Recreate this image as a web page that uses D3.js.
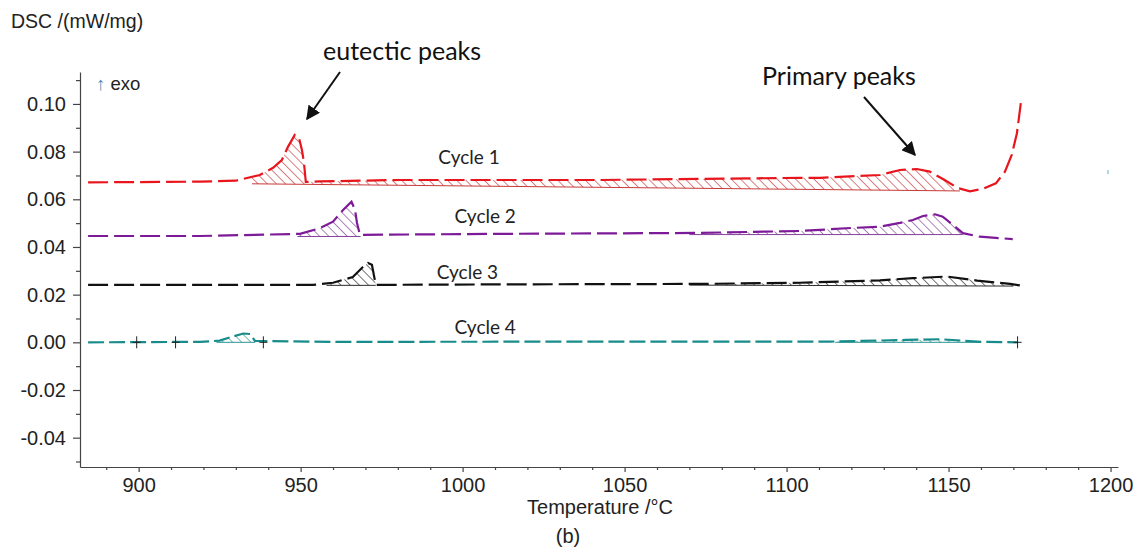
<!DOCTYPE html>
<html>
<head>
<meta charset="utf-8">
<script src="https://cdn.jsdelivr.net/npm/d3@7"></script>
<style>
  html, body { margin: 0; padding: 0; background: #fff; }
  svg { display: block; }
</style>
</head>
<body>
<svg id="chart" width="1137" height="550"></svg>
<script>
// ---------------- data ----------------
const xTicks = [900, 950, 1000, 1050, 1100, 1150, 1200];
const xMinorTicks = [890, 910, 920, 930, 940, 960, 970, 980, 990, 1010, 1020, 1030, 1040, 1060, 1070, 1080, 1090, 1110, 1120, 1130, 1140, 1160, 1170, 1180, 1190];
const yTicks = [-0.04, -0.02, 0.00, 0.02, 0.04, 0.06, 0.08, 0.10];
const yMinorTicks = [-0.05, -0.03, -0.01, 0.01, 0.03, 0.05, 0.07, 0.09, 0.11];

const cycleNames = ["Cycle 1", "Cycle 2", "Cycle 3", "Cycle 4"];

// Cycle 1 (red)
const c1T = [884.4, 918.9, 930.0, 937.4, 941.5, 944.2, 946.1, 948.2, 949.5, 950.4, 951.0, 951.6, 956.0, 980.6, 1042.4, 1104.0, 1110.3, 1122.6, 1128.8, 1135.0, 1140.2, 1144.2, 1148.8, 1152.9, 1156.6, 1160.6, 1164.6, 1167.4, 1169.5, 1171.1, 1172.3];
const c1V = [0.0671, 0.0674, 0.0678, 0.0702, 0.0732, 0.0765, 0.0820, 0.0870, 0.0858, 0.0807, 0.0757, 0.0673, 0.0675, 0.0681, 0.0681, 0.0690, 0.0690, 0.0698, 0.0702, 0.0723, 0.0727, 0.0716, 0.0681, 0.0647, 0.0633, 0.0644, 0.0667, 0.0716, 0.0786, 0.0877, 0.1003];
// Cycle 2 (purple)
const c2T = [884.4, 918.9, 949.8, 956.0, 960.0, 963.1, 965.7, 966.8, 967.4, 968.3, 1011.5, 1073.3, 1104.1, 1120.5, 1128.8, 1135.0, 1139.0, 1142.1, 1145.8, 1148.2, 1151.3, 1154.4, 1159.7, 1169.8];
const c2V = [0.0446, 0.0446, 0.0455, 0.0479, 0.0506, 0.0555, 0.0590, 0.0555, 0.0501, 0.0451, 0.0455, 0.0459, 0.0467, 0.0480, 0.0485, 0.0501, 0.0513, 0.0530, 0.0537, 0.0527, 0.0493, 0.0458, 0.0443, 0.0433];
// Cycle 3 (black)
const c3T = [884.4, 949.8, 953.8, 960.0, 966.1, 968.9, 970.8, 972.0, 972.6, 973.2, 1011.5, 1073.3, 1104.0, 1128.8, 1139.0, 1149.5, 1158.8, 1169.0, 1172.0];
const c3V = [0.0241, 0.0241, 0.0241, 0.0250, 0.0274, 0.0312, 0.0333, 0.0325, 0.0283, 0.0241, 0.0243, 0.0245, 0.0250, 0.0260, 0.0269, 0.0276, 0.0259, 0.0245, 0.0239];
// Cycle 4 (teal)
const c4T = [884.4, 918.9, 925.0, 928.8, 932.3, 934.4, 935.9, 960.0, 1050.0, 1113.3, 1137.0, 1147.4, 1160.0, 1171.3];
const c4V = [0.0000, 0.0002, 0.0007, 0.0023, 0.0037, 0.0035, 0.0006, 0.0002, 0.0003, 0.0003, 0.0010, 0.0013, 0.0002, 0.0000];

// hatched peak areas: cycle index, T start, T end, baseline value at start, baseline value at end
const hatchCycle = [0, 1, 1, 2, 2, 3, 3];
const hatchT0 = [935.0, 949.0, 1070.0, 958.0, 1070.0, 924.0, 1115.0];
const hatchT1 = [1153.5, 968.5, 1154.4, 973.2, 1170.0, 936.0, 1160.0];
const hatchB0 = [0.0665, 0.0444, 0.0452, 0.0239, 0.0240, 0.0000, 0.0000];
const hatchB1 = [0.0635, 0.0444, 0.0452, 0.0239, 0.0236, 0.0000, 0.0000];

// integration markers on cycle 4
const crossT = [899.4, 911.4, 938.5, 1171.3];
const crossV = [0, 0, 0, 0];
// stray teal mark
const strayT = [1199.2];
const strayV = [0.0714];

// cycle label anchor positions (data units)
const labelT = [992.5, 997.5, 992.0, 997.5];
const labelV = [0.0748, 0.0501, 0.0266, 0.0035];

// ---------------- drawing ----------------
const colors = ["#e8161c", "#7d1a98", "#111111", "#178c8a"];
const hatchColors = ["#c83a3a", "#84419a", "#2a2a2a", "#2f9593"];

const svg = d3.select("#chart");
svg.append("rect").attr("width", 1137).attr("height", 550).attr("fill", "#fff");

const x = d3.scaleLinear().domain([881.9, 1202.3]).range([80, 1118]);
const y = d3.scaleLinear().domain([-0.0523, 0.1134]).range([467, 72]);

const defs = svg.append("defs");
hatchColors.forEach((c, i) => {
  const p = defs.append("pattern")
    .attr("id", "hatch" + i)
    .attr("patternUnits", "userSpaceOnUse")
    .attr("width", 6.5).attr("height", 6.5)
    .attr("patternTransform", "rotate(-45)");
  p.append("line").attr("x1", 0).attr("y1", 0).attr("x2", 0).attr("y2", 6.5)
    .attr("stroke", c).attr("stroke-width", 1.3);
});

const series = [[c1T, c1V], [c2T, c2V], [c3T, c3V], [c4T, c4V]];

function interp(T, V, t) {
  for (let i = 0; i < T.length - 1; i++) {
    if (t >= T[i] && t <= T[i + 1]) {
      const f = (t - T[i]) / (T[i + 1] - T[i]);
      return V[i] + f * (V[i + 1] - V[i]);
    }
  }
  return t < T[0] ? V[0] : V[V.length - 1];
}

// hatched areas
hatchCycle.forEach((ci, k) => {
  const [T, V] = series[ci];
  const t0 = hatchT0[k], t1 = hatchT1[k];
  const pts = [[t0, interp(T, V, t0)]];
  T.forEach((t, i) => { if (t > t0 && t < t1) pts.push([t, V[i]]); });
  pts.push([t1, interp(T, V, t1)]);
  const base = t => hatchB0[k] + (t - t0) / (t1 - t0) * (hatchB1[k] - hatchB0[k]);
  const area = d3.area()
    .x(d => x(d[0]))
    .y0(d => y(base(d[0])))
    .y1(d => y(Math.max(d[1], base(d[0]))));
  svg.append("path").attr("d", area(pts))
    .attr("fill", "url(#hatch" + ci + ")").attr("stroke", "none");
  svg.append("line")
    .attr("x1", x(t0)).attr("y1", y(hatchB0[k]))
    .attr("x2", x(t1)).attr("y2", y(hatchB1[k]))
    .attr("stroke", hatchColors[ci]).attr("stroke-width", 1);
});

// curves
const line = d3.line().x(d => x(d[0])).y(d => y(d[1]));
series.forEach(([T, V], i) => {
  const pts = T.map((t, j) => [t, V[j]]);
  svg.append("path").attr("d", line(pts))
    .attr("fill", "none")
    .attr("stroke", colors[i])
    .attr("stroke-width", 2.2)
    .attr("stroke-dasharray", i === 3 ? "16,5" : "20,6");
});

// crosses
crossT.forEach((t, i) => {
  const cx = x(t), cy = y(crossV[i]);
  svg.append("path")
    .attr("d", `M${cx - 4},${cy}H${cx + 4}M${cx},${cy - 6}V${cy + 6}`)
    .attr("stroke", "#222").attr("stroke-width", 1).attr("fill", "none");
});
strayT.forEach((t, i) => {
  svg.append("line").attr("x1", x(t)).attr("x2", x(t))
    .attr("y1", y(strayV[i]) - 2).attr("y2", y(strayV[i]) + 2)
    .attr("stroke", "#5fb3c9").attr("stroke-width", 1);
});

// axes
const axisColor = "#444";
const fontAx = "'Liberation Sans', Arial, sans-serif";

const gx = svg.append("g").attr("transform", "translate(0,467)");
gx.call(d3.axisBottom(x).tickValues(xTicks).tickSize(5).tickSizeOuter(0).tickPadding(6).tickFormat(d => String(d)));
const gxm = svg.append("g").attr("transform", "translate(0,467)");
gxm.call(d3.axisBottom(x).tickValues(xMinorTicks).tickSize(3).tickSizeOuter(0).tickFormat(""));
gxm.select(".domain").remove();

const gy = svg.append("g").attr("transform", "translate(80,0)");
gy.call(d3.axisLeft(y).tickValues(yTicks).tickSize(7).tickSizeOuter(0).tickPadding(7).tickFormat(d => d.toFixed(2)));
const gym = svg.append("g").attr("transform", "translate(80,0)");
gym.call(d3.axisLeft(y).tickValues(yMinorTicks).tickSize(4).tickSizeOuter(0).tickFormat(""));
gym.select(".domain").remove();

[gx, gxm, gy, gym].forEach(g => {
  g.selectAll("path,line").attr("stroke", axisColor).attr("stroke-width", 1.2);
  g.selectAll("text").attr("fill", "#222").style("font-family", fontAx).style("font-size", "20px");
});

// axis titles
svg.append("text").attr("x", 11).attr("y", 28)
  .style("font-family", fontAx).style("font-size", "19.5px").attr("fill", "#222")
  .text("DSC /(mW/mg)");
const exo = svg.append("text").attr("x", 96).attr("y", 90)
  .style("font-family", fontAx).style("font-size", "18.5px").attr("fill", "#222");
exo.append("tspan").attr("fill", "#3f8fb5").text("↑");
exo.append("tspan").text(" exo");

svg.append("text").attr("x", 600).attr("y", 514).attr("text-anchor", "middle")
  .style("font-family", "'Liberation Sans Narrow', 'Liberation Sans', Arial, sans-serif")
  .style("font-size", "20px").attr("fill", "#222")
  .text("Temperature /°C");
svg.append("text").attr("x", 568).attr("y", 543).attr("text-anchor", "middle")
  .style("font-family", fontAx).style("font-size", "20px").attr("fill", "#222")
  .text("(b)");

// cycle labels
const fontCal = "Lato, 'Open Sans', sans-serif";
cycleNames.forEach((n, i) => {
  svg.append("text").attr("x", x(labelT[i])).attr("y", y(labelV[i]))
    .style("font-family", fontCal).style("font-size", "19px").attr("fill", "#222")
    .text(n);
});

// annotations
defs.append("marker").attr("id", "arrow").attr("viewBox", "0 0 10 10")
  .attr("refX", 9).attr("refY", 5).attr("markerWidth", 7).attr("markerHeight", 7)
  .attr("orient", "auto")
  .append("path").attr("d", "M0,0L10,5L0,10z").attr("fill", "#111");

svg.append("text").attr("x", 323).attr("y", 60)
  .style("font-family", fontCal).style("font-size", "25px").attr("fill", "#111")
  .text("eutectic peaks");
svg.append("line").attr("x1", 340).attr("y1", 72).attr("x2", 307).attr("y2", 119)
  .attr("stroke", "#111").attr("stroke-width", 2).attr("marker-end", "url(#arrow)");

svg.append("text").attr("x", 762).attr("y", 85)
  .style("font-family", fontCal).style("font-size", "25px").attr("fill", "#111")
  .text("Primary peaks");
svg.append("line").attr("x1", 864).attr("y1", 97).attr("x2", 915).attr("y2", 155)
  .attr("stroke", "#111").attr("stroke-width", 2).attr("marker-end", "url(#arrow)");
</script>
</body>
</html>
